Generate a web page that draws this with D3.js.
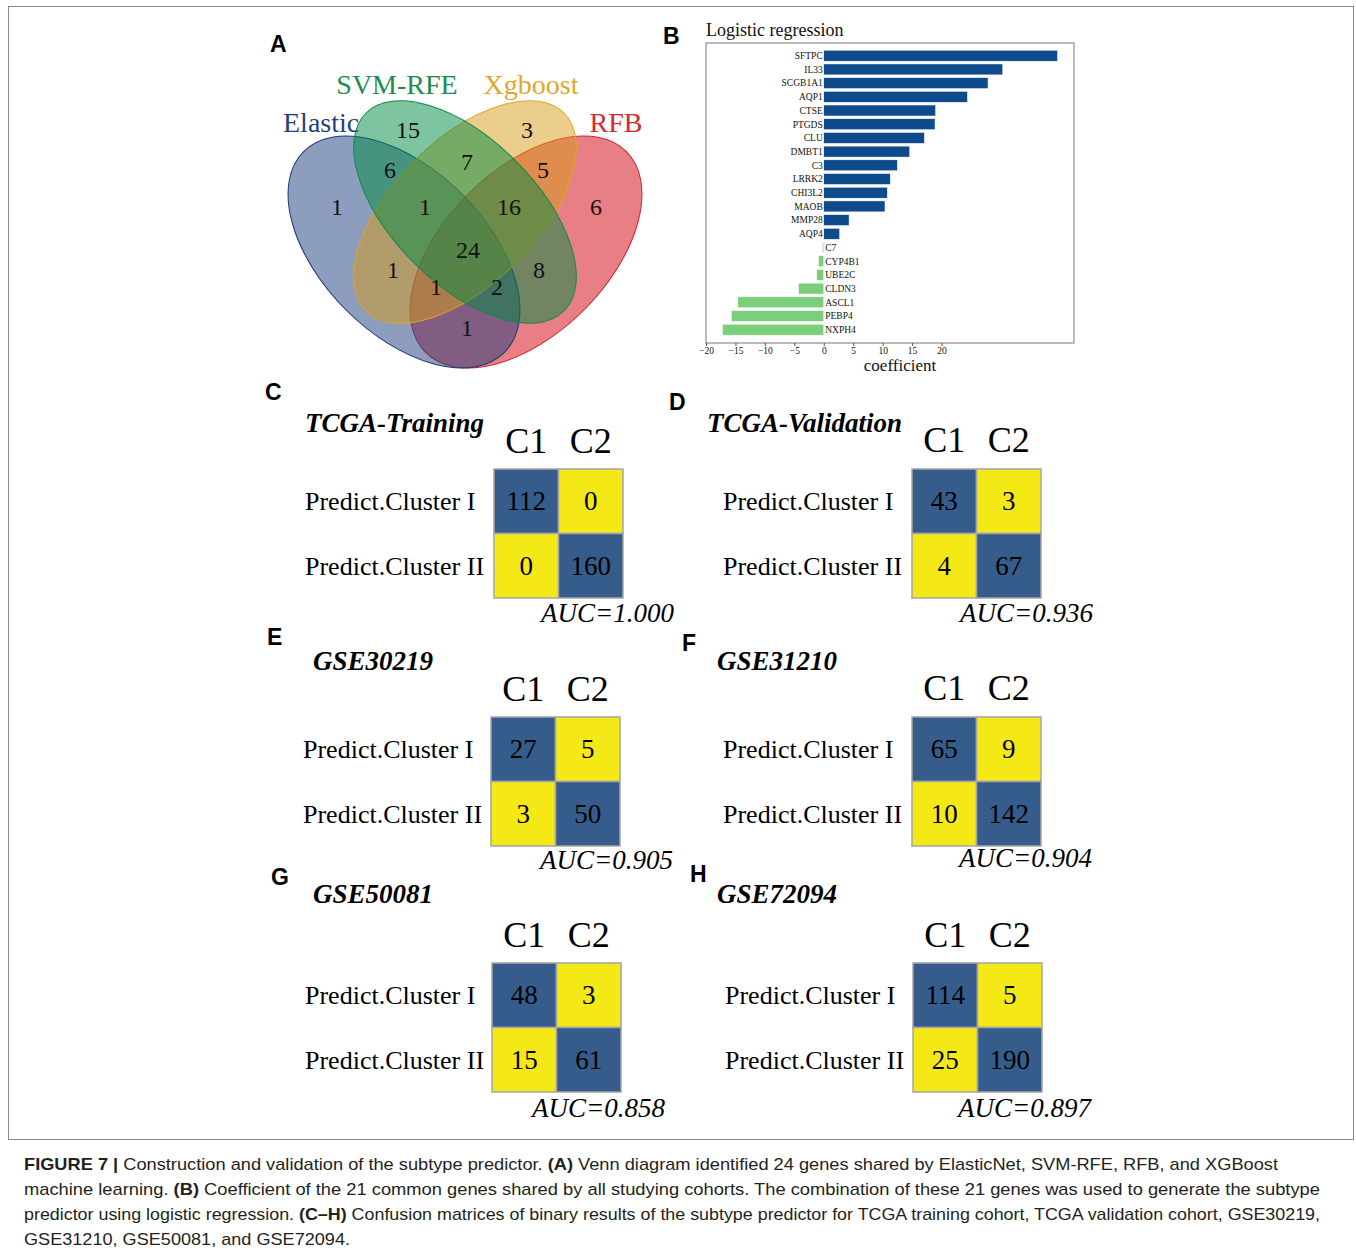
<!DOCTYPE html>
<html><head><meta charset="utf-8">
<script src="https://cdn.jsdelivr.net/npm/d3@7"></script>
<style>body{margin:0;background:#fff}svg{display:block}</style>
</head><body>
<svg id="c" width="1356" height="1257"></svg>
<script>
// ---------------- DATA ----------------
const vennSetNames = ["Elastic", "SVM-RFE", "Xgboost", "RFB"];
const vennRegionKeys = ["S", "X", "ES", "SX", "XR", "E", "ESX", "SXR", "R", "ESXR", "EX", "SR", "EXR", "ESR", "ER"];
const vennRegionCounts = [15, 3, 6, 7, 5, 1, 1, 16, 6, 24, 1, 8, 1, 2, 1];

const genes = ["SFTPC","IL33","SCGB1A1","AQP1","CTSE","PTGDS","CLU","DMBT1","C3","LRRK2","CHI3L2","MAOB","MMP28","AQP4","C7","CYP4B1","UBE2C","CLDN3","ASCL1","PEBP4","NXPH4"];
const coefficients = [39.7, 30.4, 27.9, 24.4, 19.0, 18.9, 17.1, 14.6, 12.5, 11.3, 10.8, 10.4, 4.3, 2.7, -0.2, -0.9, -1.2, -4.3, -14.6, -15.7, -17.2];
const coefTicks = [-20, -15, -10, -5, 0, 5, 10, 15, 20];

const matrixTitles = ["TCGA-Training", "TCGA-Validation", "GSE30219", "GSE31210", "GSE50081", "GSE72094"];
const matrixLetters = ["C", "D", "E", "F", "G", "H"];
const matrixValues = [[112, 0, 0, 160], [43, 3, 4, 67], [27, 5, 3, 50], [65, 9, 10, 142], [48, 3, 15, 61], [114, 5, 25, 190]];
const aucValues = ["1.000", "0.936", "0.905", "0.904", "0.858", "0.897"];
const colLabels = ["C1", "C2"];
const rowLabels = ["Predict.Cluster I", "Predict.Cluster II"];

// ---------------- LAYOUT / STYLE ----------------
const SERIF = "'Liberation Serif','Times New Roman',serif";
const SANS = "'Liberation Sans',Arial,sans-serif";
const svg = d3.select("#c");

svg.append("rect").attr("x", 8.5).attr("y", 6.5).attr("width", 1345).attr("height", 1133)
  .attr("fill", "none").attr("stroke", "#8a8a8a").attr("stroke-width", 1);

function letter(t, x, y) {
  svg.append("text").attr("x", x).attr("y", y).text(t)
    .attr("font-family", SANS).attr("font-weight", "bold").attr("font-size", 23).attr("fill", "#000");
}

// ---------------- A: Venn ----------------
letter("A", 270, 52);
const vennColors = {E: "#193b7d", S: "#008941", X: "#d79b19", R: "#d00009"};
const vennStroke = {E: "#1b3677", S: "#138a47", X: "#e0a624", R: "#d3222c"};
const vennTextColor = ["#2a3f7f", "#1e8c50", "#e2a62b", "#d42a35"];
// ellipse layout (draw order red, blue, yellow, green)
const ellipses = [
  {k: "R", cx: 526, cy: 252, rx: 142, ry: 82, rot: -45},
  {k: "E", cx: 404, cy: 252, rx: 142, ry: 82, rot: 45},
  {k: "X", cx: 465, cy: 212, rx: 140, ry: 72, rot: -45},
  {k: "S", cx: 465, cy: 212, rx: 140, ry: 72, rot: 45}
];
const gv = svg.append("g");
gv.selectAll("ellipse").data(ellipses).join("ellipse")
  .attr("cx", 0).attr("cy", 0).attr("rx", d => d.rx).attr("ry", d => d.ry)
  .attr("transform", d => `translate(${d.cx},${d.cy}) rotate(${d.rot})`)
  .attr("fill", d => vennColors[d.k]).attr("fill-opacity", 0.5)
  .attr("stroke", d => vennStroke[d.k]).attr("stroke-width", 1);

const vennLabelPos = [[283, 132, "start"], [397, 94, "middle"], [531, 94, "middle"], [616, 132, "middle"]];
vennSetNames.forEach((n, i) => {
  svg.append("text").attr("x", vennLabelPos[i][0]).attr("y", vennLabelPos[i][1])
    .attr("text-anchor", vennLabelPos[i][2]).text(n)
    .attr("font-family", SERIF).attr("font-size", 28).attr("fill", vennTextColor[i]);
});
const regionPos = {
  S: [408, 130], X: [527, 130], ES: [390, 170], SX: [467, 162], XR: [543, 170],
  E: [337, 207], ESX: [425, 207], SXR: [509, 207], R: [596, 207], ESXR: [468, 250],
  EX: [393, 270], SR: [539, 270], EXR: [436, 287], ESR: [497, 287], ER: [467, 328]
};
vennRegionKeys.forEach((k, i) => {
  svg.append("text").attr("x", regionPos[k][0]).attr("y", regionPos[k][1]).attr("dy", "0.35em")
    .attr("text-anchor", "middle").text(vennRegionCounts[i])
    .attr("font-family", SERIF).attr("font-size", 24).attr("fill", "#111");
});

// ---------------- B: Bars ----------------
letter("B", 663, 44);
const bx = d3.scaleLinear().domain([-20, 42.5]).range([706, 1074]);
const by = d3.scaleBand().domain(genes).range([47.5, 337.9]).padding(0.2);
svg.append("text").attr("x", 706).attr("y", 36).text("Logistic regression")
  .attr("font-family", SERIF).attr("font-size", 18).attr("fill", "#111");
svg.append("rect").attr("x", 706).attr("y", 43).attr("width", 368).attr("height", 300)
  .attr("fill", "none").attr("stroke", "#8c8c8c").attr("stroke-width", 1.2);
const gb = svg.append("g");
gb.selectAll("rect").data(genes).join("rect")
  .attr("x", (d, i) => bx(Math.min(0, coefficients[i])))
  .attr("width", (d, i) => Math.abs(bx(coefficients[i]) - bx(0)))
  .attr("y", d => by(d)).attr("height", by.bandwidth())
  .attr("fill", (d, i) => coefficients[i] >= 0 ? "#0f4a8c" : "#7ccf7a")
  .attr("stroke", "#fff").attr("stroke-width", 0.5);
gb.selectAll("text").data(genes).join("text")
  .attr("x", (d, i) => coefficients[i] >= 0 ? bx(0) - 1 : bx(0) + 1.5)
  .attr("y", d => by(d) + by.bandwidth() / 2).attr("dy", "0.35em")
  .attr("text-anchor", (d, i) => coefficients[i] >= 0 ? "end" : "start")
  .text(d => d).attr("font-family", SERIF).attr("font-size", 9.5).attr("fill", "#111");
const ax = svg.append("g").attr("transform", "translate(0,343)")
  .call(d3.axisBottom(bx).tickValues(coefTicks).tickSize(3).tickPadding(1));
ax.select(".domain").remove();
ax.selectAll("line").attr("stroke", "#555");
ax.selectAll("text").attr("font-family", SERIF).attr("font-size", 9.5).attr("fill", "#111");
svg.append("text").attr("x", 900).attr("y", 371).attr("text-anchor", "middle").text("coefficient")
  .attr("font-family", SERIF).attr("font-size", 17).attr("fill", "#111");

// ---------------- C-H: Confusion matrices ----------------
const panels = [
  {lx: 265, ly: 400, tx: 305, ty: 432, mx: 494, my: 469, rx: 305, cb: 453, ax: 674, ab: 622},
  {lx: 669, ly: 410, tx: 707, ty: 432, mx: 912, my: 469, rx: 723, cb: 452, ax: 1093, ab: 622},
  {lx: 267, ly: 645, tx: 313, ty: 670, mx: 491, my: 717, rx: 303, cb: 701, ax: 673, ab: 869},
  {lx: 682, ly: 651, tx: 717, ty: 670, mx: 912, my: 717, rx: 723, cb: 700, ax: 1092, ab: 867},
  {lx: 271, ly: 885, tx: 313, ty: 903, mx: 492, my: 963, rx: 305, cb: 947, ax: 665, ab: 1117},
  {lx: 690, ly: 882, tx: 717, ty: 903, mx: 913, my: 963, rx: 725, cb: 947, ax: 1091, ab: 1117}
];
const CELL = 64.5;
panels.forEach((p, pi) => {
  letter(matrixLetters[pi], p.lx, p.ly);
  svg.append("text").attr("x", p.tx).attr("y", p.ty).text(matrixTitles[pi])
    .attr("font-family", SERIF).attr("font-weight", "bold").attr("font-style", "italic")
    .attr("font-size", 27).attr("fill", "#000");
  const cx = d3.scaleBand().domain(colLabels).range([p.mx, p.mx + 2 * CELL]);
  const ry = d3.scaleBand().domain(rowLabels).range([p.my, p.my + 2 * CELL]);
  const g = svg.append("g");
  const cells = [];
  rowLabels.forEach((r, ri) => colLabels.forEach((c, ci) => cells.push({r, c, diag: ri === ci, v: matrixValues[pi][ri * 2 + ci]})));
  g.selectAll("rect").data(cells).join("rect")
    .attr("x", d => cx(d.c)).attr("y", d => ry(d.r))
    .attr("width", cx.bandwidth()).attr("height", ry.bandwidth())
    .attr("fill", d => d.diag ? "#365c8b" : "#f5e817")
    .attr("stroke", "#a5a5a5").attr("stroke-width", 1.5);
  g.selectAll("text.v").data(cells).join("text").attr("class", "v")
    .attr("x", d => cx(d.c) + cx.bandwidth() / 2).attr("y", d => ry(d.r) + ry.bandwidth() / 2 + 9)
    .attr("text-anchor", "middle").text(d => d.v)
    .attr("font-family", SERIF).attr("font-size", 27).attr("fill", "#000");
  g.selectAll("text.c").data(colLabels).join("text").attr("class", "c")
    .attr("x", d => cx(d) + cx.bandwidth() / 2).attr("y", p.cb)
    .attr("text-anchor", "middle").text(d => d)
    .attr("font-family", SERIF).attr("font-size", 36).attr("fill", "#000");
  g.selectAll("text.r").data(rowLabels).join("text").attr("class", "r")
    .attr("x", p.rx).attr("y", d => ry(d) + ry.bandwidth() / 2 + 9)
    .text(d => d).attr("font-family", SERIF).attr("font-size", 26).attr("fill", "#000");
  svg.append("text").attr("x", p.ax).attr("y", p.ab).attr("text-anchor", "end")
    .text("AUC=" + aucValues[pi]).attr("font-family", SERIF).attr("font-style", "italic")
    .attr("font-size", 27).attr("fill", "#000");
});

// ---------------- Caption ----------------
const captionLines = [
  [["FIGURE 7 |", true], [" Construction and validation of the subtype predictor. ", false], ["(A)", true], [" Venn diagram identified 24 genes shared by ElasticNet, SVM-RFE, RFB, and XGBoost", false]],
  [["machine learning. ", false], ["(B)", true], [" Coefficient of the 21 common genes shared by all studying cohorts. The combination of these 21 genes was used to generate the subtype", false]],
  [["predictor using logistic regression. ", false], ["(C\u2013H)", true], [" Confusion matrices of binary results of the subtype predictor for TCGA training cohort, TCGA validation cohort, GSE30219,", false]],
  [["GSE31210, GSE50081, and GSE72094.", false]]
];
const capWidths = [1254, 1296, 1296, 326];
captionLines.forEach((ln, i) => {
  const t = svg.append("text").attr("x", 24).attr("y", 1170 + i * 25)
    .attr("font-family", SANS).attr("font-size", 17).attr("fill", "#231f20");
  ln.forEach(([s, b]) => t.append("tspan").text(s).attr("font-weight", b ? "bold" : "normal"));
  if (capWidths[i]) t.attr("textLength", capWidths[i]).attr("lengthAdjust", "spacingAndGlyphs");
});
</script>
</body></html>
